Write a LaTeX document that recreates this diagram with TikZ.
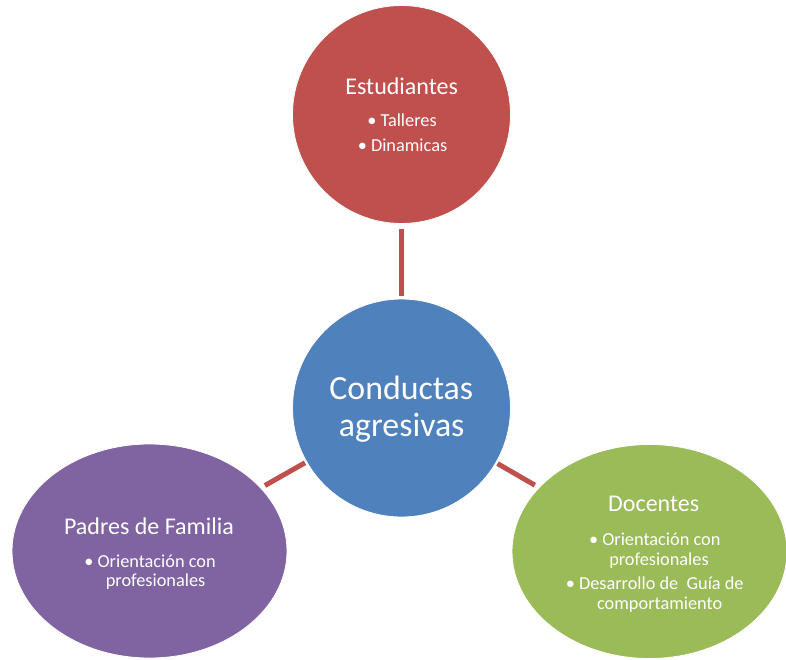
\documentclass[tikz,border=0pt]{standalone}
\usepackage{fontspec}
\setmainfont{Carlito}
\usetikzlibrary{shapes.geometric}
\definecolor{cred}{HTML}{C0504D}
\definecolor{cblue}{HTML}{4F81BD}
\definecolor{cpurple}{HTML}{8064A2}
\definecolor{cgreen}{HTML}{9BBB59}
\tikzset{
  blob/.style={draw=white, line width=0.8pt, inner sep=0pt, outer sep=0pt},
  roundblob/.style={blob, circle, minimum size=218pt},
  ovalblob/.style={blob, ellipse, minimum width=275pt, minimum height=214pt},
  link/.style={draw=cred, line width=5pt},
  txt/.style={text=white, anchor=base, inner sep=0pt},
  ttl/.style={txt, font=\fontsize{24}{29}\selectfont},
  big/.style={txt, font=\fontsize{33.8}{40}\selectfont},
  itm/.style={txt, font=\fontsize{18.3}{20}\selectfont},
}
\begin{document}
\begin{tikzpicture}[x=1pt, y=-1pt]
\useasboundingbox (0,0) rectangle (786,659);
% shapes
\node[roundblob, fill=cred]    (est) at (401.5,114.5) {};
\node[roundblob, fill=cblue]   (cen) at (401.5,408) {};
\node[ovalblob,  fill=cpurple] (pad) at (149.5,551) {};
\node[ovalblob,  fill=cgreen]  (doc) at (649.5,551.5) {};
% connectors
\draw[link, shorten <=5pt, shorten >=3pt] (est) -- (cen);
\draw[link, shorten <=2pt, shorten >=5pt] (cen) -- (pad);
\draw[link, shorten <=2pt, shorten >=5pt] (cen) -- (doc);
% texts
\node[ttl] (estT) at (401.7,94) {Estudiantes};
\node[itm] (est1) at (402,126) {• Talleres};
\node[itm] (est2) at (402.5,151) {• Dinamicas};

\node[big] (cen1) at (401.3,399) {Conductas};
\node[big] (cen2) at (401.7,436) {agresivas};

\node[ttl] (padT) at (149,534.5) {Padres de Familia};
\node[itm] (pad1) at (150,567) {• Orientación con};
\node[itm] (pad2) at (155.6,586) {profesionales};

\node[ttl] (docT) at (653.7,511.7) {Docentes};
\node[itm] (doc1) at (654.7,545) {• Orientación con};
\node[itm] (doc2) at (659,565) {profesionales};
\node[itm] (doc3) at (654.7,589) {• Desarrollo de\ \ Guía de};
\node[itm] (doc4) at (659.7,609) {comportamiento};
\end{tikzpicture}
\end{document}
